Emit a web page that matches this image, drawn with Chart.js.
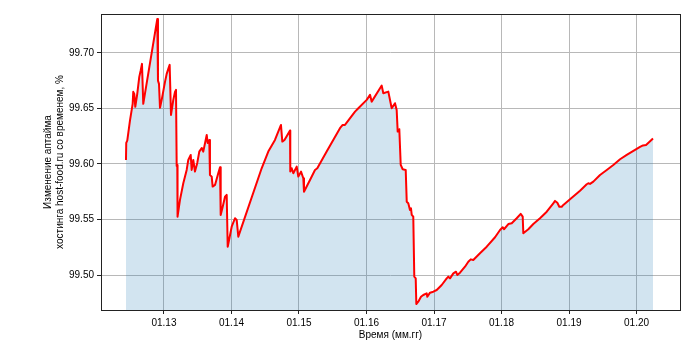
<!DOCTYPE html>
<html>
<head>
<meta charset="utf-8">
<script src="https://cdn.jsdelivr.net/npm/chart.js@4/dist/chart.umd.min.js"></script>
<style>
  body { margin: 0; background: #fff; }
  canvas { display: block; }
</style>
</head>
<body>
<canvas id="chart1" width="700" height="350"></canvas>
<script>
"use strict";

// time as fractional year (2013.0 == 01.13)
var years = [
  2012.437, 2012.441, 2012.456, 2012.496, 2012.536, 2012.545, 2012.560, 2012.575, 2012.604, 2012.634,
  2012.655, 2012.674, 2012.693, 2012.901, 2012.911, 2012.926, 2012.941, 2012.966, 2013.015, 2013.040,
  2013.064, 2013.084, 2013.104, 2013.138, 2013.163, 2013.178, 2013.188, 2013.197, 2013.201, 2013.237,
  2013.286, 2013.336, 2013.360, 2013.396, 2013.410, 2013.434, 2013.459, 2013.493, 2013.523, 2013.559,
  2013.582, 2013.633, 2013.647, 2013.671, 2013.681, 2013.707, 2013.721, 2013.756, 2013.804, 2013.830,
  2013.840, 2013.870, 2013.904, 2013.929, 2013.944, 2014.003, 2014.052, 2014.077, 2014.101, 2014.447,
  2014.545, 2014.644, 2014.733, 2014.753, 2014.785, 2014.867, 2014.871, 2014.892, 2014.916, 2014.966,
  2014.990, 2015.030, 2015.064, 2015.074, 2015.163, 2015.237, 2015.271, 2015.410, 2015.607, 2015.647,
  2015.681, 2015.830, 2015.879, 2016.003, 2016.052, 2016.077, 2016.200, 2016.225, 2016.249, 2016.323,
  2016.373, 2016.422, 2016.447, 2016.462, 2016.486, 2016.507, 2016.536, 2016.581, 2016.596, 2016.619,
  2016.644, 2016.659, 2016.670, 2016.693, 2016.708, 2016.729, 2016.738, 2016.767, 2016.807, 2016.841,
  2016.892, 2016.901, 2016.941, 2016.990, 2017.040, 2017.114, 2017.188, 2017.212, 2017.237, 2017.286,
  2017.326, 2017.345, 2017.385, 2017.459, 2017.508, 2017.544, 2017.582, 2017.681, 2017.781, 2017.904,
  2017.978, 2018.018, 2018.037, 2018.101, 2018.151, 2018.225, 2018.284, 2018.314, 2018.323, 2018.397,
  2018.471, 2018.570, 2018.670, 2018.767, 2018.793, 2018.827, 2018.856, 2018.892, 2018.916, 2019.015,
  2019.163, 2019.262, 2019.286, 2019.311, 2019.360, 2019.459, 2019.559, 2019.656, 2019.756, 2019.855,
  2019.978, 2020.052, 2020.096, 2020.141, 2020.244
];

// uptime, %
var uptime = [
  99.6036, 99.6189, 99.6210, 99.6390, 99.6541, 99.6649, 99.6631, 99.6514, 99.6631, 99.6784,
  99.6841, 99.6901, 99.6541, 99.7306, 99.6750, 99.6721, 99.6505, 99.6577, 99.6739, 99.6811,
  99.6856, 99.6892, 99.6441, 99.6577, 99.6649, 99.6667, 99.5982, 99.5991, 99.5525, 99.5676,
  99.5826, 99.5946, 99.6036, 99.6081, 99.5946, 99.6036, 99.5931, 99.6009, 99.6111, 99.6144,
  99.6111, 99.6261, 99.6189, 99.6216, 99.5901, 99.5886, 99.5796, 99.5811, 99.5916, 99.5970,
  99.5541, 99.5615, 99.5705, 99.5721, 99.5255, 99.5435, 99.5511, 99.5496, 99.5345, 99.5961,
  99.6111, 99.6216, 99.6351, 99.6201, 99.6216, 99.6300, 99.5931, 99.5961, 99.5916, 99.5976,
  99.5886, 99.5931, 99.5871, 99.5750, 99.5856, 99.5946, 99.5961, 99.6111, 99.6322, 99.6351,
  99.6351, 99.6471, 99.6502, 99.6577, 99.6622, 99.6561, 99.6682, 99.6705, 99.6637, 99.6651,
  99.6502, 99.6547, 99.6486, 99.6291, 99.6313, 99.5991, 99.5952, 99.5946, 99.5660, 99.5646,
  99.5586, 99.5601, 99.5541, 99.5525, 99.4985, 99.4970, 99.4739, 99.4760, 99.4804, 99.4820,
  99.4835, 99.4804, 99.4841, 99.4850, 99.4865, 99.4910, 99.4970, 99.4985, 99.4970, 99.5015,
  99.5030, 99.5000, 99.5021, 99.5075, 99.5120, 99.5141, 99.5135, 99.5196, 99.5255, 99.5340,
  99.5405, 99.5430, 99.5412, 99.5459, 99.5466, 99.5511, 99.5550, 99.5525, 99.5376, 99.5412,
  99.5459, 99.5511, 99.5570, 99.5646, 99.5667, 99.5651, 99.5615, 99.5615, 99.5631, 99.5682,
  99.5759, 99.5817, 99.5826, 99.5820, 99.5841, 99.5901, 99.5946, 99.5991, 99.6042, 99.6081,
  99.6126, 99.6153, 99.6167, 99.6171, 99.6230
];

var xRange = [2012.067, 2020.644];
var yRange = [99.4685, 99.735];
var yTickStep = 0.05;
var yTitle = ["Изменение аптайма", "хостинга host-food.ru со временем, %"];
var xTitle = "Время (мм.гг)";

chart1();

function chart1() {
  Chart.defaults.font.family = "'Liberation Sans', Arial, sans-serif";
  Chart.defaults.font.size = 10;
  Chart.defaults.color = "#000";

  var points = years.map(function(x, i) {
    return { x: x, y: uptime[i] };
  });

  // axes box like matplotlib spines
  var frame = {
    id: "frame",
    afterDraw: function(chart) {
      var a = chart.chartArea;
      var ctx = chart.ctx;
      ctx.save();
      ctx.strokeStyle = "#222";
      ctx.lineWidth = 1;
      ctx.strokeRect(Math.round(a.left) + 0.5, Math.round(a.top) + 0.5,
        Math.round(a.right - a.left), Math.round(a.bottom - a.top));
      ctx.restore();
    }
  };

  var grid = {
    color: "#b8b8b8",
    lineWidth: 1,
    tickColor: "#222",
    tickLength: 4
  };

  var ctx = document.getElementById("chart1");
  new Chart(ctx, {
    type: "line",
    data: {
      datasets: [
        {
          data: points,
          borderColor: "#ff0000",
          borderWidth: 2,
          borderJoinStyle: "round",
          backgroundColor: "rgba(31, 119, 180, 0.2)",
          fill: "start",
          pointRadius: 0,
          tension: 0
        }
      ]
    },
    options: {
      responsive: false,
      animation: false,
      layout: {
        padding: { top: 14, right: 20, left: 0, bottom: 0 }
      },
      plugins: {
        legend: { display: false },
        tooltip: { enabled: false }
      },
      scales: {
        x: {
          type: "linear",
          min: xRange[0],
          max: xRange[1],
          grid: grid,
          border: { display: false },
          ticks: {
            stepSize: 1,
            includeBounds: false,
            maxRotation: 0,
            padding: 3,
            callback: function(v) {
              return "01." + String(v).slice(2);
            }
          },
          title: {
            display: true,
            text: xTitle,
            padding: { top: 0, bottom: 9 }
          },
          afterFit: function(scale) {
            scale.height = 40;
          }
        },
        y: {
          min: yRange[0],
          max: yRange[1],
          grid: grid,
          border: { display: false },
          ticks: {
            stepSize: yTickStep,
            includeBounds: false,
            padding: 3,
            callback: function(v) {
              return v.toFixed(2);
            }
          },
          title: {
            display: true,
            text: yTitle,
            padding: { top: 42, bottom: 0 }
          },
          afterFit: function(scale) {
            scale.width = 101;
          }
        }
      }
    },
    plugins: [frame]
  });
}
</script>
</body>
</html>
